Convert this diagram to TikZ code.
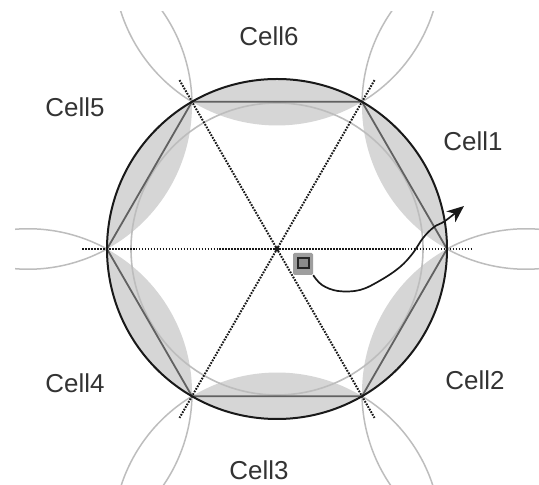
\documentclass[tikz,border=0pt]{standalone}
\usepackage{fontspec}
\setmainfont{Liberation Sans}
\usetikzlibrary{arrows.meta}
\definecolor{lensgrey}{gray}{0.84}
\definecolor{arcgrey}{gray}{0.74}
\definecolor{hexgrey}{gray}{0.38}
\definecolor{ink}{gray}{0.1}
\tikzset{
  celllabel/.style={text=black!80,font=\fontsize{26}{26}\selectfont,inner sep=0pt},
  rayline/.style={draw=ink,line width=2pt,dash pattern=on 1.7pt off 1.3pt},
}
\begin{document}
\begin{tikzpicture}[x=1bp,y=1bp]
\useasboundingbox (0,0) rectangle (539,485);
\fill[white] (0,0) rectangle (539,485);
\coordinate (O) at (277,236);
% lens fills
\foreach \v in {0,60,...,300}{
  \pgfmathsetmacro{\a}{\v+30}
  \fill[lensgrey] ([shift={(O)}]\v:170) arc[start angle=\v,delta angle=60,radius=170]
     arc[start angle=\a+180-31.2,delta angle=62.4,radius=164] -- cycle;
}
% exterior arcs of neighbour cells
\begin{scope}
\clip (15,0) rectangle (539,473);
\foreach \a in {30,90,...,330}{
  \draw[arcgrey,line width=1.5pt] ([shift={(O)}]\a:287.5) ++(\a+180-31.2:164) arc[start angle=\a+180-31.2,delta angle=-75,radius=164];
  \draw[arcgrey,line width=1.5pt] ([shift={(O)}]\a:287.5) ++(\a+180+31.2:164) arc[start angle=\a+180+31.2,delta angle=75,radius=164];
}
\end{scope}
% inner light circle
\draw[arcgrey,line width=1.6pt] (O) circle[radius=146];
% hexagon
\draw[hexgrey,line width=1.8pt] ([shift={(O)}]0:170) -- ([shift={(O)}]60:170) -- ([shift={(O)}]120:170) -- ([shift={(O)}]180:170) -- ([shift={(O)}]240:170) -- ([shift={(O)}]300:170) -- cycle;
% main circle
\draw[ink,line width=2pt] (O) circle[radius=170];
% rays
\draw[rayline] ([shift={(O)}]180:195) -- ([shift={(O)}]0:195);
\draw[rayline] ([shift={(O)}]120:195) -- ([shift={(O)}]300:195);
\draw[rayline] ([shift={(O)}]60:195) -- ([shift={(O)}]240:195);
\fill[ink] (O) circle[radius=2.4];
% phone
\node[draw=none,fill=black!38,rounded corners=1.5pt,minimum width=20bp,minimum height=22bp,inner sep=0pt] (phone) at (303,221) {};
\node[draw=black!85,line width=2pt,fill=black!45,minimum width=11bp,minimum height=10bp,inner sep=0pt] (screen) at (303,222) {};
% path
\coordinate (tip) at (464,279);
\draw[ink,line width=1.7pt,-{Stealth[length=17bp,width=14bp,inset=5bp]}] plot[smooth,tension=0.6] coordinates {(phone.south east) (322,200) (338,194) (360,195) (381,205) (400,218) (413,232) (423,247) (434,258) (445,264) (tip)};
% labels
\node[celllabel] (c6) at (269,449) {Cell6};
\node[celllabel] (c5) at (75,378) {Cell5};
\node[celllabel] (c1) at (473,344) {Cell1};
\node[celllabel] (c2) at (475,105) {Cell2};
\node[celllabel] (c3) at (259,15) {Cell3};
\node[celllabel] (c4) at (75,102) {Cell4};
\end{tikzpicture}
\end{document}
